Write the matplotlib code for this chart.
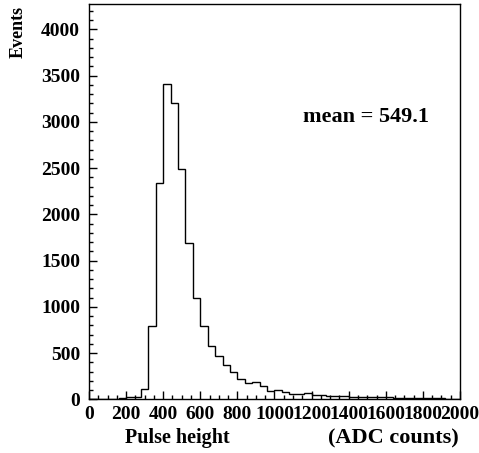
import matplotlib
matplotlib.use("Agg")
import matplotlib.pyplot as plt
import numpy as np
from matplotlib.ticker import MultipleLocator

bin_edges_start = 0
bin_width = 40
n_bins = 50
counts = [2, 3, 5, 8, 12, 20, 22, 115, 790, 2335,
          3409, 3204, 2489, 1695, 1092, 790, 577, 472, 371, 292,
          220, 173, 184, 148, 90, 101, 76, 58, 58, 65,
          45, 42, 38, 33, 36, 30, 28, 28, 25, 22,
          24, 18, 18, 15, 14, 12, 12, 10, 8, 8]
edges = np.arange(n_bins + 1) * bin_width + bin_edges_start

x_label = "Pulse height"
x_unit = "(ADC counts)"
y_label = "Events"
mean_text = "mean = 549.1"

plt.rcParams['font.family'] = ['Liberation Serif', 'DejaVu Serif']
plt.rcParams['font.weight'] = 'bold'

fig = plt.figure(figsize=(4.79, 4.53), dpi=100)
ax = fig.add_axes([0.1858, 0.1185, 0.9603 - 0.1858, 0.9905 - 0.1185])
ax.stairs(counts, edges, color='black', linewidth=1.0)
ax.set_xlim(0, 2000)
ax.set_ylim(0, 4270)

ax.xaxis.set_major_locator(MultipleLocator(200))
ax.xaxis.set_minor_locator(MultipleLocator(50))
ax.yaxis.set_major_locator(MultipleLocator(500))
ax.yaxis.set_minor_locator(MultipleLocator(100))
ax.tick_params(which='both', direction='in', top=False, right=False, width=1)
ax.tick_params(which='major', length=6, labelsize=14)
ax.tick_params(axis='y', which='major', pad=6.5)
ax.tick_params(axis='x', which='major', pad=4.5)
ax.tick_params(which='minor', length=3)
for lab in ax.get_xticklabels() + ax.get_yticklabels():
    lab.set_fontweight('bold')
for s in ax.spines.values():
    s.set_linewidth(1.0)

fig.text(0.370, 0.022, x_label, fontsize=14.5, fontweight='bold', ha='center', va='baseline')
fig.text(0.9570, 0.022, x_unit, fontsize=16, fontweight='bold', ha='right', va='baseline')
fig.text(0.0386, 0.987, y_label, fontsize=13, fontweight='bold', ha='center', va='top', rotation=90)
ax.text(1496, 3000, mean_text, fontsize=16, fontweight='bold', ha='center', va='baseline')

fig.savefig("out.png", dpi=100)
